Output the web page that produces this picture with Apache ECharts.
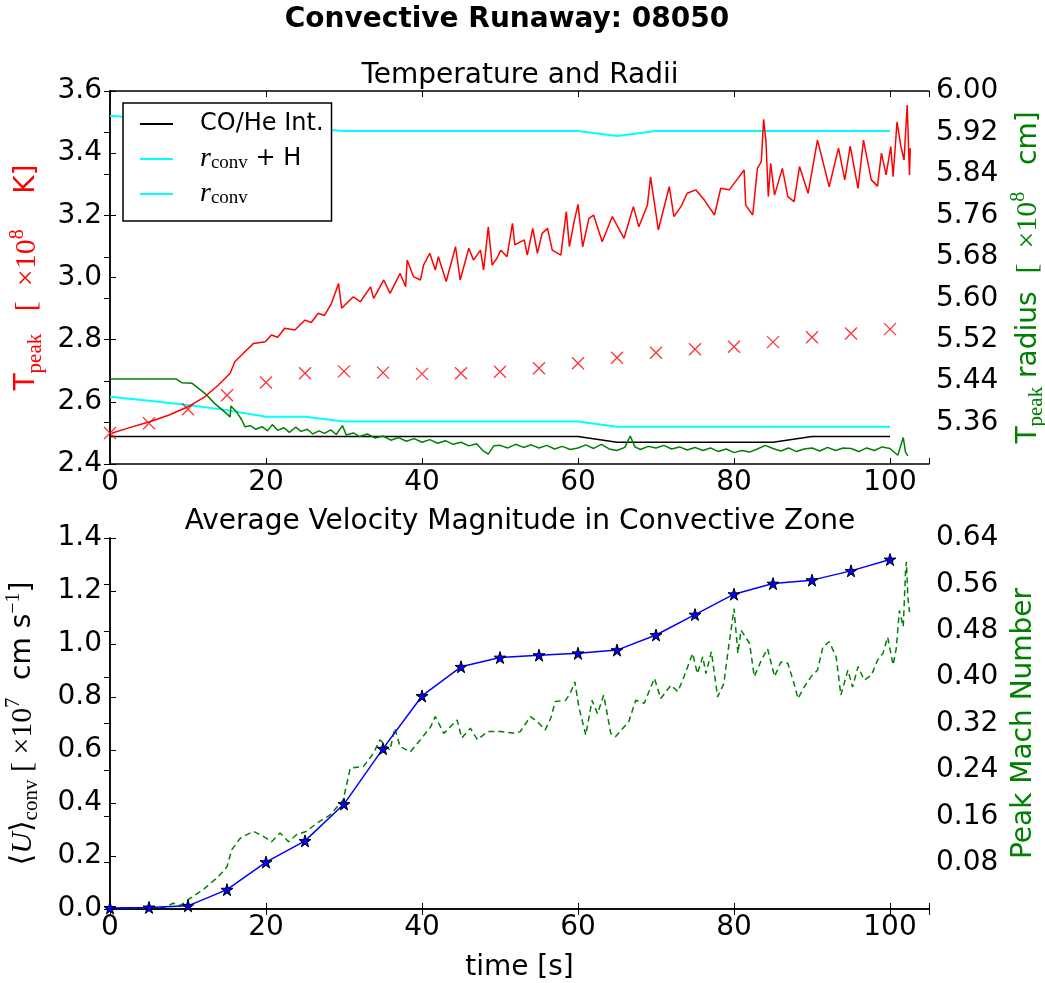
<!DOCTYPE html>
<html><head><meta charset="utf-8">
<script src="https://cdn.jsdelivr.net/npm/echarts@6/dist/echarts.min.js"></script>
<style>html,body{margin:0;padding:0;background:#fff}#c{width:1045px;height:983px}</style>
</head><body><div id="c"></div>
<script>
// ---------- data ----------
const tempTime = [0.2,2.5,5.1,7.5,10,12.2,13.9,15.4,16.0,17.3,18.4,19.9,20.7,21.5,22.4,23.7,25.0,25.8,26.7,27.5,28.4,29.3,29.7,31.2,32.1,33.4,33.8,35.1,35.9,37.2,37.9,38.1,38.9,39.8,40.2,41.0,41.7,42.1,43.1,44.3,44.9,46.0,46.6,47.5,47.9,48.5,49.0,49.6,50.1,50.9,51.6,51.9,53.1,53.5,54.2,54.8,55.4,56.1,56.7,57.8,58.5,58.9,59.5,60.0,60.6,61.4,62.0,63.1,64.4,65.9,67.1,67.8,68.9,69.3,70.3,71.7,72.3,73.2,74.0,75.1,76.2,77.5,78.3,79.4,80.5,81.3,81.5,82.4,83.0,83.5,83.8,84.1,84.4,84.7,85.2,86.2,86.9,87.7,88.4,89.5,90.7,91.4,92.2,93.4,94.2,94.9,95.9,96.6,97.6,98.4,98.9,99.5,100.1,100.4,100.9,101.4,101.8,102.2,102.5,102.6];
const tempPeak = [2.499,2.517,2.536,2.557,2.584,2.617,2.654,2.692,2.729,2.761,2.788,2.793,2.815,2.808,2.837,2.831,2.863,2.855,2.885,2.878,2.917,2.981,2.901,2.938,2.922,2.970,2.933,2.992,2.949,3.013,2.970,3.056,3.003,2.992,3.040,3.078,3.024,3.067,2.987,3.099,2.992,3.094,3.056,3.088,3.024,3.163,3.040,3.062,3.088,3.067,3.174,3.105,3.121,3.072,3.158,3.078,3.142,3.158,3.088,3.072,3.212,3.099,3.180,3.235,3.099,3.190,3.201,3.115,3.196,3.126,3.228,3.163,3.233,3.324,3.153,3.292,3.196,3.228,3.271,3.282,3.249,3.201,3.287,3.282,3.319,3.346,3.233,3.201,3.351,3.373,3.509,3.437,3.260,3.367,3.265,3.351,3.260,3.244,3.357,3.271,3.442,3.373,3.292,3.416,3.314,3.423,3.287,3.442,3.314,3.294,3.400,3.330,3.421,3.324,3.501,3.421,3.378,3.555,3.330,3.416];

const markTime = [0,5,10,15,20,25,30,35,40,45,50,55,60,65,70,75,80,85,90,95,100];
const markTemp = [2.500,2.531,2.576,2.621,2.662,2.692,2.698,2.694,2.690,2.692,2.697,2.708,2.724,2.742,2.758,2.769,2.777,2.792,2.808,2.820,2.834];

const radTime = [0,8.5,9.2,10.5,12.2,13.4,14.5,15.4,15.5,16.2,16.9,17.3,18,18.7,19.5,20.2,20.8,21.5,22.3,23.0,23.8,24.5,25.3,26.0,26.8,27.5,28.3,29.0,29.8,30.3,31.2,32,33,34,35,36,37,38,39,40,41,42,43,44,45,46,47,47.8,48.5,49.2,50,51,52,53,54,55,56,57,58,59,60,61,62,63,64,65,66,66.7,67.3,68,69,70,71,72,73,74,75,76,77,78,79,80,81,82,83,84,85,86,87,88,89,90,91,92,93,94,95,96,97,98,99,100,101,101.7,102.0,102.3];
const radVal = [5.444,5.444,5.437,5.436,5.416,5.397,5.383,5.371,5.392,5.381,5.365,5.352,5.354,5.347,5.352,5.344,5.356,5.345,5.350,5.341,5.351,5.343,5.347,5.338,5.344,5.339,5.346,5.337,5.354,5.336,5.340,5.333,5.338,5.330,5.334,5.326,5.331,5.324,5.329,5.322,5.327,5.320,5.325,5.318,5.322,5.315,5.319,5.306,5.299,5.315,5.316,5.311,5.318,5.312,5.317,5.311,5.316,5.309,5.314,5.308,5.311,5.317,5.310,5.318,5.309,5.306,5.312,5.334,5.313,5.308,5.314,5.311,5.316,5.309,5.313,5.307,5.312,5.306,5.311,5.304,5.309,5.302,5.306,5.303,5.309,5.316,5.310,5.305,5.311,5.304,5.309,5.311,5.305,5.312,5.306,5.311,5.310,5.304,5.311,5.306,5.313,5.310,5.297,5.331,5.302,5.296];

const sampleTime = [0,5,10,15,20,25,30,35,40,45,50,55,60,65,70,75,80,85,90,95,100];
const coHeInt = [5.333,5.333,5.333,5.333,5.333,5.333,5.333,5.333,5.333,5.333,5.333,5.333,5.333,5.322,5.322,5.322,5.322,5.322,5.333,5.333,5.333];
const rConvH = [5.952,5.947,5.943,5.938,5.933,5.928,5.923,5.923,5.923,5.923,5.923,5.923,5.923,5.913,5.923,5.923,5.923,5.923,5.923,5.923,5.923];
const rConv = [5.410,5.402,5.394,5.384,5.371,5.371,5.362,5.362,5.362,5.362,5.362,5.362,5.362,5.352,5.352,5.352,5.352,5.352,5.352,5.352,5.352];

const velTime = [0,5,10,15,20,25,30,35,40,45,50,55,60,65,70,75,80,85,90,95,100];
const velVal = [0.004,0.006,0.012,0.073,0.177,0.257,0.396,0.605,0.804,0.914,0.949,0.958,0.965,0.977,1.034,1.111,1.188,1.228,1.241,1.276,1.319];

const machTime = [0,4,7,8.1,9,10,11.9,13.9,15.0,15.6,16.7,17.5,18.4,19.7,20.7,21.8,22.9,23.9,25.2,26.5,28.2,29.9,30.8,32.5,33.8,34.6,35.9,36.5,37.2,38.5,39.8,41.1,41.7,42.8,43.6,44.5,45.1,46.2,47.1,48.4,50.1,51.8,52.6,53.9,54.8,55.8,56.5,57.1,58.4,59.0,59.6,60.1,61.0,61.8,62.5,63.3,64.2,64.8,66.5,67.4,68.5,69.8,70.6,71.9,72.8,73.6,74.7,75.3,76.0,76.4,77.1,77.9,78.7,79.2,80.0,80.5,80.9,82.0,82.6,83.5,84.3,85.2,86.0,86.9,87.7,88.2,89.0,89.9,90.7,91.4,92.2,93.1,93.7,94.6,95.2,95.9,96.7,97.6,98.4,99.1,99.7,100.4,100.8,101.2,101.7,102.0,102.1,102.3,102.5];
const machVal = [0.002,0.002,0.003,0.010,0.006,0.016,0.033,0.056,0.073,0.102,0.122,0.128,0.134,0.125,0.116,0.131,0.116,0.128,0.134,0.148,0.162,0.188,0.243,0.246,0.269,0.292,0.274,0.312,0.280,0.271,0.292,0.314,0.332,0.303,0.314,0.326,0.295,0.312,0.292,0.306,0.306,0.303,0.306,0.332,0.323,0.309,0.329,0.358,0.360,0.372,0.392,0.349,0.300,0.360,0.337,0.369,0.303,0.297,0.323,0.360,0.355,0.398,0.363,0.386,0.375,0.401,0.441,0.406,0.435,0.406,0.444,0.366,0.389,0.441,0.518,0.441,0.481,0.458,0.401,0.429,0.449,0.401,0.426,0.424,0.389,0.363,0.383,0.401,0.412,0.452,0.461,0.435,0.369,0.412,0.383,0.418,0.395,0.403,0.429,0.441,0.469,0.421,0.449,0.515,0.487,0.584,0.599,0.536,0.512];

const xTicks = [0,20,40,60,80,100];

// ---------- chart ----------
const zip = (a, b) => a.map((v, i) => [v, b[i]]);
const FONT = 'DejaVu Sans';
const SERIF = 'Liberation Serif, DejaVu Serif, serif';
const FS = 28;
const LFS = 24;
const STAR = 'path://M50,0 L61,35 L98,35 L68,57 L79,91 L50,70 L21,91 L32,57 L2,35 L39,35 Z';
const XMARK = 'path://M0,0 L10,10 M10,0 L0,10';

function richSet(color) {
  return {
    n: {fontFamily: FONT, fontSize: FS, color: color, lineHeight: 38},
    m: {fontFamily: SERIF, fontSize: FS + 2, color: color, lineHeight: 38},
    mi: {fontFamily: SERIF, fontStyle: 'italic', fontSize: FS + 2, color: color, lineHeight: 38},
    s: {fontFamily: SERIF, fontSize: 21, color: color, lineHeight: 22, verticalAlign: 'bottom'},
    p: {fontFamily: SERIF, fontSize: 20, color: color, lineHeight: 22, verticalAlign: 'top'}
  };
}

const frame = {show: true, lineStyle: {color: '#000', width: 1.5}};
const tick = {show: true, inside: true, length: 6, lineStyle: {color: '#000', width: 1}};

function xAxisBottom(grid) {
  return {
    type: 'value', gridIndex: grid, position: 'bottom', min: 0, max: 105, interval: 20,
    axisLine: frame, axisTick: tick, splitLine: {show: false},
    axisLabel: {fontFamily: FONT, fontSize: FS, color: '#000', margin: 5,
      formatter: v => xTicks.indexOf(v) >= 0 ? String(v) : ''}
  };
}
function xAxisTop(grid) {
  return {
    type: 'value', gridIndex: grid, position: 'top', min: 0, max: 105, interval: 20,
    axisLine: frame, axisTick: tick, splitLine: {show: false}, axisLabel: {show: false}
  };
}

const option = {
  animation: false,
  backgroundColor: '#fff',
  title: [
    {text: 'Convective Runaway: 08050', left: 507, top: 6, textAlign: 'center', padding: 0,
      textStyle: {fontFamily: FONT, fontSize: FS, fontWeight: 'bold', color: '#000'}},
    {text: 'Temperature and Radii', left: 520, top: 62, textAlign: 'center', padding: 0,
      textStyle: {fontFamily: FONT, fontSize: FS, fontWeight: 'normal', color: '#000'}},
    {text: 'Average Velocity Magnitude in Convective Zone', left: 520, top: 508, textAlign: 'center', padding: 0,
      textStyle: {fontFamily: FONT, fontSize: FS, fontWeight: 'normal', color: '#000'}}
  ],
  grid: [
    {left: 110, top: 91, width: 819, height: 373, outerBoundsMode: 'none', containLabel: false},
    {left: 110, top: 538, width: 819, height: 371, outerBoundsMode: 'none', containLabel: false}
  ],
  legend: {
    left: 123, top: 103, orient: 'vertical',
    data: ['CO/He Int.', 'rConvH', 'rConv'],
    icon: 'rect',
    backgroundColor: '#fff', borderColor: '#000', borderWidth: 1.5, borderRadius: 0,
    padding: [7, 8, 13, 17], itemGap: 7, itemWidth: 33, itemHeight: 2,
    textStyle: {fontFamily: FONT, fontSize: LFS, color: '#000', lineHeight: 28, padding: [0, 0, 0, 22],
      rich: {
        n: {fontFamily: FONT, fontSize: LFS, color: '#000', lineHeight: 28},
        mi: {fontFamily: SERIF, fontStyle: 'italic', fontSize: LFS + 4, color: '#000', lineHeight: 28},
        s: {fontFamily: SERIF, fontSize: 19, color: '#000', lineHeight: 18, verticalAlign: 'bottom'}
      }},
    formatter: name => name === 'rConvH' ? '{mi|r}{s|conv}{n| + H}' : (name === 'rConv' ? '{mi|r}{s|conv}' : name)
  },
  xAxis: [xAxisBottom(0), xAxisTop(0), Object.assign(xAxisBottom(1), {
      name: 'time [s]', nameLocation: 'middle', nameGap: 45,
      nameTextStyle: {fontFamily: FONT, fontSize: FS, color: '#000'}}), xAxisTop(1)],
  yAxis: [
    {type: 'value', gridIndex: 0, position: 'left', min: 2.4, max: 3.6, interval: 0.2,
      axisLine: frame, axisTick: tick, splitLine: {show: false},
      axisLabel: {fontFamily: FONT, fontSize: FS, color: '#000', margin: 8, formatter: v => v.toFixed(1)},
      name: '{n|T}{s|peak}{m|   [  ×10}{p|8}{n|    K]}', nameLocation: 'middle', nameRotate: 90, nameGap: 64,
      nameTextStyle: {color: '#ff0000', rich: richSet('#ff0000')}},
    {type: 'value', gridIndex: 0, position: 'right', min: 5.28, max: 6.0, interval: 0.08,
      axisLine: frame, axisTick: tick, splitLine: {show: false},
      axisLabel: {fontFamily: FONT, fontSize: FS, color: '#000', margin: 7,
        formatter: v => v < 5.3 ? '' : v.toFixed(2)},
      name: '{n|T}{s|peak}{n| radius  }{m|[  ×10}{p|8}{n|   cm]}', nameLocation: 'middle', nameRotate: 90, nameGap: 72,
      nameTextStyle: {color: '#008000', rich: richSet('#008000')}},
    {type: 'value', gridIndex: 1, position: 'left', min: 0, max: 1.4, interval: 0.2,
      axisLine: frame, axisTick: tick, splitLine: {show: false},
      axisLabel: {fontFamily: FONT, fontSize: FS, color: '#000', margin: 8, formatter: v => v.toFixed(1)},
      name: '{m|⟨}{mi|U}{m|⟩}{s|conv}{m| [ ×10}{p|7}{n|  cm s}{p|−1}{n|]}', nameLocation: 'middle', nameRotate: 90, nameGap: 68,
      nameTextStyle: {color: '#000', rich: richSet('#000')}},
    {type: 'value', gridIndex: 1, position: 'right', min: 0, max: 0.64, interval: 0.08,
      axisLine: frame, axisTick: tick, splitLine: {show: false},
      axisLabel: {fontFamily: FONT, fontSize: FS, color: '#000', margin: 7,
        formatter: v => v < 0.01 ? '' : v.toFixed(2)},
      name: 'Peak Mach Number', nameLocation: 'middle', nameRotate: 90, nameGap: 73,
      nameTextStyle: {fontFamily: FONT, fontSize: FS, color: '#008000'}}
  ],
  series: [
    {name: 'CO/He Int.', type: 'line', xAxisIndex: 0, yAxisIndex: 1, data: zip(sampleTime, coHeInt),
      symbol: 'none', lineStyle: {color: '#000', width: 1.5}, itemStyle: {color: '#000'}, z: 3},
    {name: 'rConvH', type: 'line', xAxisIndex: 0, yAxisIndex: 1, data: zip(sampleTime, rConvH),
      symbol: 'none', lineStyle: {color: '#00ffff', width: 2}, itemStyle: {color: '#00ffff'}, z: 3},
    {name: 'rConv', type: 'line', xAxisIndex: 0, yAxisIndex: 1, data: zip(sampleTime, rConv),
      symbol: 'none', lineStyle: {color: '#00ffff', width: 2}, itemStyle: {color: '#00ffff'}, z: 3},
    {name: 'radius', type: 'line', xAxisIndex: 0, yAxisIndex: 1, data: zip(radTime, radVal),
      symbol: 'none', lineStyle: {color: '#008000', width: 1.5}, z: 4},
    {name: 'Tpeak', type: 'line', xAxisIndex: 0, yAxisIndex: 0, data: zip(tempTime, tempPeak),
      symbol: 'none', lineStyle: {color: '#ff0000', width: 1.5}, z: 5},
    {name: 'TpeakMark', type: 'scatter', xAxisIndex: 0, yAxisIndex: 0, data: zip(markTime, markTemp),
      symbol: XMARK, symbolSize: 12,
      itemStyle: {color: 'rgba(0,0,0,0)', borderColor: '#ff0000', borderWidth: 1.3}, z: 6},
    {name: 'Mach', type: 'line', xAxisIndex: 2, yAxisIndex: 3, data: zip(machTime, machVal),
      symbol: 'none', lineStyle: {color: '#008000', width: 1.5, type: [6, 4]}, z: 3},
    {name: 'Uconv', type: 'line', xAxisIndex: 2, yAxisIndex: 2, data: zip(velTime, velVal),
      symbol: STAR, symbolSize: 12, showAllSymbol: true,
      lineStyle: {color: '#0000ff', width: 1.5},
      itemStyle: {color: '#0000ff', borderColor: '#000', borderWidth: 1}, z: 5}
  ]
};

const chart = echarts.init(document.getElementById('c'), null, {renderer: 'canvas'});
chart.setOption(option);
</script>
</body></html>
